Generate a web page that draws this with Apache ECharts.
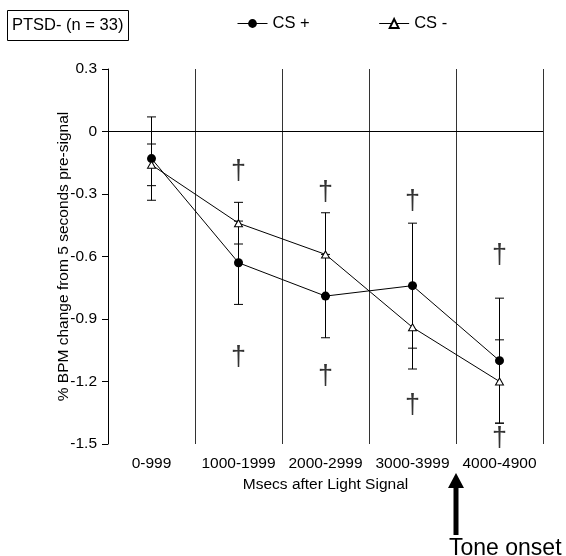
<!DOCTYPE html>
<html>
<head>
<meta charset="utf-8">
<script src="https://cdn.jsdelivr.net/npm/echarts@6/dist/echarts.min.js"></script>
<style>html,body{margin:0;padding:0;background:#fff;}#c{width:566px;height:556px;}</style>
</head>
<body>
<div id="c"></div>
<script>
var categories = ['0-999', '1000-1999', '2000-2999', '3000-3999', '4000-4900'];
var csPlus = [-0.13, -0.63, -0.79, -0.74, -1.10];
var csPlusErr = [0.20, 0.20, 0.20, 0.30, 0.30];
var csMinus = [-0.16, -0.44, -0.59, -0.94, -1.20];
var csMinusErr = [0.10, 0.10, 0.20, 0.20, 0.20];
var daggerAbove = [null, -0.18, -0.28, -0.32, -0.58];
var daggerBelow = [null, -1.07, -1.16, -1.30, -1.46];
var yTicks = [0.3, 0, -0.3, -0.6, -0.9, -1.2, -1.5];

var FONT = 'Liberation Sans, Arial, sans-serif';
var chart = echarts.init(document.getElementById('c'), null, {renderer: 'canvas'});

function errRender(params, api) {
  var i = api.value(0), v = api.value(1), e = api.value(2);
  var top = api.coord([i, v + e]);
  var bot = api.coord([i, v - e]);
  var hw = 4.5;
  var st = {stroke: '#000', lineWidth: 1};
  return {type: 'group', children: [
    {type: 'line', shape: {x1: top[0], y1: top[1], x2: bot[0], y2: bot[1]}, style: st},
    {type: 'line', shape: {x1: top[0] - hw, y1: top[1], x2: top[0] + hw, y2: top[1]}, style: st},
    {type: 'line', shape: {x1: bot[0] - hw, y1: bot[1], x2: bot[0] + hw, y2: bot[1]}, style: st}
  ]};
}

var daggerData = [];
for (var k = 0; k < categories.length; k++) {
  if (daggerAbove[k] !== null) daggerData.push([k, daggerAbove[k]]);
  if (daggerBelow[k] !== null) daggerData.push([k, daggerBelow[k]]);
}

var option = {
  animation: false,
  backgroundColor: '#fff',
  textStyle: {fontFamily: FONT, color: '#000'},
  title: {
    text: 'PTSD- (n = 33)',
    left: 7, top: 10,
    padding: [7, 5, 7, 5],
    borderColor: '#000', borderWidth: 1,
    textStyle: {fontFamily: FONT, fontSize: 16.5, fontWeight: 'normal', color: '#000'}
  },
  legend: {
    data: ['CS +', 'CS -'],
    left: 237, top: 15, padding: 0,
    itemWidth: 30, itemHeight: 11, itemGap: 69,
    lineStyle: {width: 1},
    textStyle: {fontFamily: FONT, fontSize: 16.5, color: '#000'}
  },
  grid: {left: 108, right: 23, top: 69, bottom: 112},
  xAxis: {
    type: 'category',
    data: categories,
    boundaryGap: true,
    name: 'Msecs after Light Signal',
    nameLocation: 'middle',
    nameGap: 30,
    nameTextStyle: {fontFamily: FONT, fontSize: 15.5, color: '#000'},
    axisLine: {show: false},
    axisTick: {show: false},
    axisLabel: {fontFamily: FONT, fontSize: 15.5, color: '#000', margin: 12, interval: 0},
    splitLine: {show: true, interval: 0, lineStyle: {color: '#333', width: 1}}
  },
  yAxis: {
    type: 'value',
    min: -1.5, max: 0.3, interval: 0.3,
    name: '% BPM change from 5 seconds pre-signal',
    nameLocation: 'middle',
    nameGap: 36,
    nameMoveOverlap: false,
    nameTextStyle: {fontFamily: FONT, fontSize: 15.5, color: '#000'},
    axisLine: {show: true, lineStyle: {color: '#000', width: 1}},
    axisTick: {show: true, inside: false, length: 6, lineStyle: {color: '#000'}},
    splitLine: {show: false},
    axisLabel: {
      fontFamily: FONT, fontSize: 15.5, color: '#000', margin: 11,
      formatter: function (v) {
        var best = yTicks[0];
        for (var j = 0; j < yTicks.length; j++) if (Math.abs(yTicks[j] - v) < Math.abs(best - v)) best = yTicks[j];
        return best === 0 ? '0' : best.toFixed(1);
      }
    }
  },
  series: [
    {
      type: 'custom', name: 'errPlus', renderItem: errRender, z: 1,
      data: csPlus.map(function (v, i) { return [i, v, csPlusErr[i]]; }),
      encode: {x: 0, y: 1}, silent: true
    },
    {
      type: 'custom', name: 'errMinus', renderItem: errRender, z: 1,
      data: csMinus.map(function (v, i) { return [i, v, csMinusErr[i]]; }),
      encode: {x: 0, y: 1}, silent: true
    },
    {
      type: 'line', name: 'CS +', data: csPlus, z: 3,
      symbol: 'circle', symbolSize: 9,
      lineStyle: {color: '#000', width: 1},
      itemStyle: {color: '#000', borderColor: '#000', borderWidth: 0},
      markLine: {
        silent: true, symbol: 'none', label: {show: false},
        lineStyle: {color: '#000', type: 'solid', width: 1},
        data: [{yAxis: 0}]
      }
    },
    {
      type: 'line', name: 'CS -', data: csMinus, z: 4,
      symbol: 'triangle', symbolSize: [8, 7],
      lineStyle: {color: '#000', width: 1},
      itemStyle: {color: '#fff', borderColor: '#000', borderWidth: 1}
    },
    {
      type: 'scatter', name: 'dagger', data: daggerData, z: 5,
      symbol: 'circle', symbolSize: 0, itemStyle: {color: 'rgba(0,0,0,0)'},
      label: {show: true, position: 'inside', offset: [0, 3], formatter: '\u2020', fontFamily: FONT, fontSize: 27, color: '#000'}
    }
  ]
};
chart.setOption(option);

var pa = chart.convertToPixel({xAxisIndex: 0}, 3);
var pb = chart.convertToPixel({xAxisIndex: 0}, 4);
var ax = (pa + pb) / 2;
chart.setOption({
  graphic: [
    {type: 'polygon', shape: {points: [[ax - 8, 488], [ax, 473], [ax + 8, 488]]}, style: {fill: '#000'}},
    {type: 'rect', shape: {x: ax - 2.5, y: 486, width: 5, height: 49}, style: {fill: '#000'}},
    {type: 'text', left: ax - 7, top: 537, style: {text: 'Tone onset', fontFamily: FONT, fontSize: 23, fill: '#000'}}
  ]
});
</script>
</body>
</html>
